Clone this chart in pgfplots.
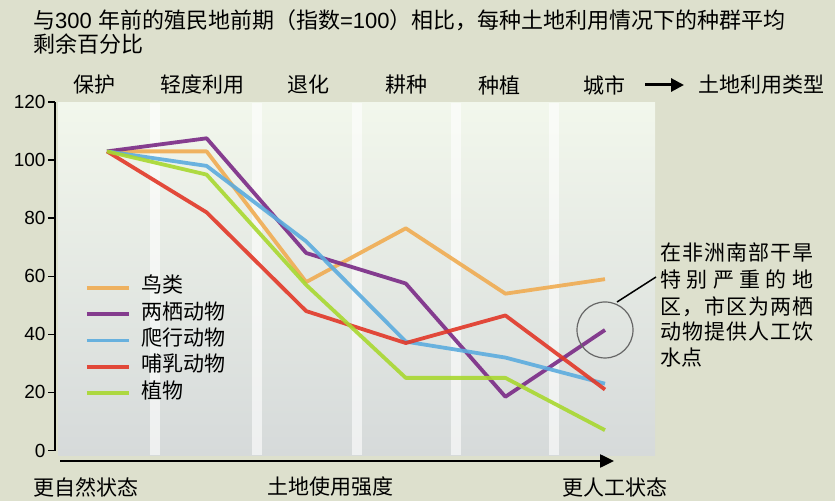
\documentclass[border=0pt]{standalone}
\usepackage{pgfplots}
\pgfplotsset{compat=1.18}
\usetikzlibrary{arrows.meta}
\usepackage{fontspec}
\setmainfont{Noto Sans CJK SC}
\newfontfamily\lat{Liberation Sans}
\definecolor{pagebg}{RGB}{221,224,205}
\definecolor{plottop}{RGB}{242,247,236}
\definecolor{plotbot}{RGB}{214,218,218}
\definecolor{cbird}{RGB}{240,172,82}
\definecolor{camph}{RGB}{122,42,134}
\definecolor{crept}{RGB}{92,172,222}
\definecolor{cmamm}{RGB}{226,56,40}
\definecolor{cplant}{RGB}{168,216,48}
\newcommand{\fs}[1]{\fontsize{#1}{#1}\selectfont}
\begin{document}
\begin{tikzpicture}[x=1pt,y=1pt]
\fill[pagebg] (0,0) rectangle (835,501);
\shade[top color=plottop, bottom color=plotbot] (58,46) rectangle (655,398);
\foreach \sx in {155,257,357,456,554} {\fill[white,opacity=0.6] (\sx-5,46) rectangle (\sx+5,398);}
\begin{axis}[
  at={(55pt,50.5pt)}, anchor=south west, scale only axis,
  width=600pt, height=348.5pt,
  xmin=-0.522, xmax=5.502, ymin=0, ymax=120,
  axis x line=none, axis y line=left,
  y axis line style={line width=2.5pt,-},
  ytick={0,20,...,120}, xtick=\empty,
  tick align=outside, major tick length=7pt,
  tick style={black, line width=1.5pt},
  yticklabel style={font=\lat\fs{19}, /pgf/number format/assume math mode=true, xshift=1pt},
  clip=false,
  legend image code/.code={\draw[#1] (0pt,0pt) -- (42pt,0pt);},
  legend style={at={(axis cs:-0.221,59.4)}, anchor=north west, draw=none, fill=none,
    font=\fs{21}, inner sep=0pt, outer sep=0pt, row sep=6.3pt, column sep=11pt,
    nodes={inner sep=0pt, text height=15pt, text depth=5pt}},
  legend cell align=left,
  every axis plot/.append style={line width=3.8pt, line join=round, opacity=0.9},
]
\addplot[cbird] coordinates {(0,103) (1,103) (2,58) (3,76.5) (4,54) (5,59)};
\addlegendentry{鸟类}
\addplot[camph] coordinates {(0,103) (1,107.5) (2,68) (3,57.5) (4,18.5) (5,41.5)};
\addlegendentry{两栖动物}
\addplot[crept] coordinates {(0,103) (1,98) (2,72) (3,37.5) (4,32) (5,23)};
\addlegendentry{爬行动物}
\addplot[cmamm] coordinates {(0,103) (1,82) (2,48) (3,37) (4,46.5) (5,21)};
\addlegendentry{哺乳动物}
\addplot[cplant] coordinates {(0,103) (1,95) (2,57) (3,25) (4,25) (5,7)};
\addlegendentry{植物}
\draw[gray!80!black, line width=1.2pt] (axis cs:5,41.5) circle (28pt);
\end{axis}
% title
\node[anchor=west, font=\fs{22}, inner sep=0pt] at (33,481) {与{\lat 300 }年前的殖民地前期（指数{\lat =100}）相比，每种土地利用情况下的种群平均};
\node[anchor=west, font=\fs{22}, inner sep=0pt] at (33,457) {剩余百分比};
% category labels
\foreach \cx/\ct in {94/保护, 202/轻度利用, 308/退化, 406/耕种, 499/种植, 604/城市}
  {\node[font=\fs{21}, inner sep=0pt] at (\cx,416) {\ct};}
\draw[line width=3pt, -{Triangle[length=13pt,width=13pt]}] (645,416) -- (684,416);
\node[anchor=west, font=\fs{21}, inner sep=0pt] at (698,416) {土地利用类型};
% bottom arrow and labels
\draw[line width=2.5pt, -{Triangle[length=14pt,width=13pt]}] (60,40) -- (614,40);
\node[anchor=west, font=\fs{21}, inner sep=0pt] at (33,14) {更自然状态};
\node[anchor=west, font=\fs{21}, inner sep=0pt] at (267,14) {土地使用强度};
\node[anchor=west, font=\fs{21}, inner sep=0pt] at (562,14) {更人工状态};
% annotation
\draw[black, line width=1.5pt] (617,199) -- (656,224);
\node[anchor=west, font=\fs{21}, inner sep=0pt] at (660,249) {\makebox[153pt][s]{在\hfill 非\hfill 洲\hfill 南\hfill 部\hfill 干\hfill 旱}};
\node[anchor=west, font=\fs{21}, inner sep=0pt] at (660,221) {\makebox[153pt][s]{特\hfill 别\hfill 严\hfill 重\hfill 的\hfill 地}};
\node[anchor=west, font=\fs{21}, inner sep=0pt] at (660,194) {\makebox[153pt][s]{区\hfill ，\hfill 市\hfill 区\hfill 为\hfill 两\hfill 栖}};
\node[anchor=west, font=\fs{21}, inner sep=0pt] at (660,169) {\makebox[153pt][s]{动\hfill 物\hfill 提\hfill 供\hfill 人\hfill 工\hfill 饮}};
\node[anchor=west, font=\fs{21}, inner sep=0pt] at (660,143) {水点};
\end{tikzpicture}
\end{document}
